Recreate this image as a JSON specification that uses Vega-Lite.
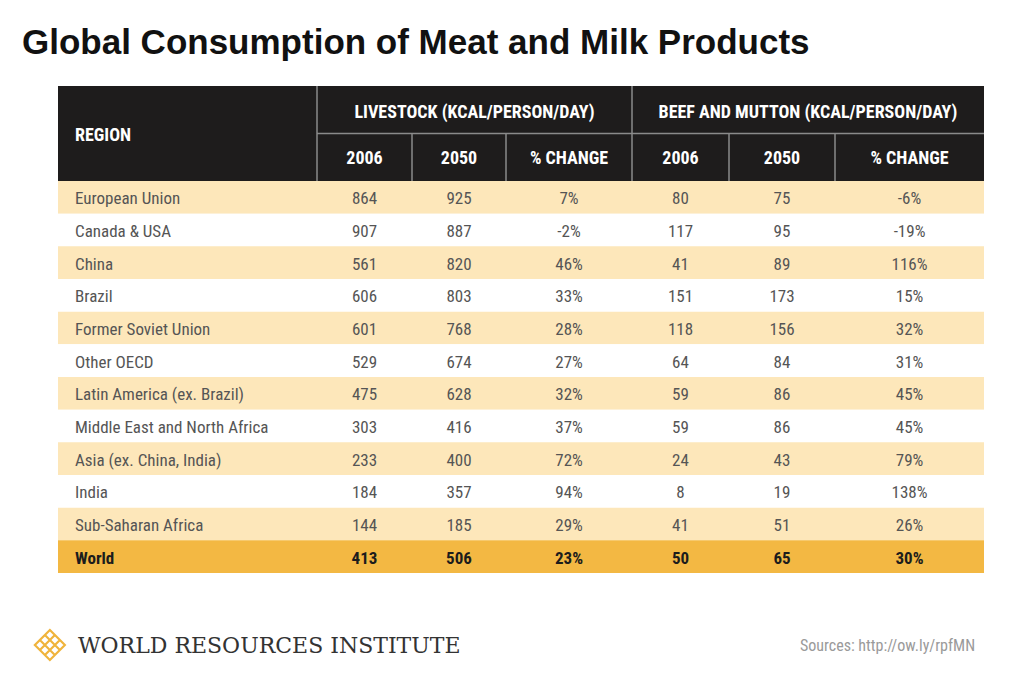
{
  "$schema": "https://vega.github.io/schema/vega-lite/v6.json",
  "width": 1024,
  "height": 610,
  "autosize": {"type": "none"},
  "padding": {"top": 70, "left": 0, "right": 0, "bottom": 0},
  "background": "#ffffff",
  "title": {"text": "Global Consumption of Meat and Milk Products", "anchor": "start", "frame": "group", "font": "Liberation Sans", "fontSize": 35, "fontWeight": "bold", "color": "#111111", "offset": 9, "dx": 22},
  "config": {
    "view": {"stroke": null},
    "text": {"dy": 2},
    "locale": {"number": {"decimal": ".", "thousands": ",", "grouping": [3], "currency": ["$", ""], "minus": "-"}}
  },
  "resolve": {"scale": {"y": "independent"}},
  "layer": [
    {
      "data": {"values": [{}]},
      "layer": [
        {"mark": {"type": "rect", "color": "#1e1c1c"},
         "encoding": {
           "x": {"datum": 0, "type": "quantitative", "axis": null, "scale": {"domain": [-1, 0, 1, 2, 3, 4, 5, 6, 7], "range": [0, 58, 317, 412, 506, 632, 729, 835, 984], "zero": false, "nice": false}},
           "x2": {"datum": 7},
           "y": {"datum": 0, "type": "quantitative", "axis": null, "scale": {"domain": [0, 2, 3], "range": [16, 111, 575], "zero": false, "nice": false}},
           "y2": {"datum": 2}}},
        {"mark": {"type": "rule", "color": "#8a8a8a", "strokeWidth": 1.5},
         "encoding": {"x": {"datum": 1, "type": "quantitative", "axis": null}, "y": {"datum": 0, "type": "quantitative", "axis": null}, "y2": {"datum": 2}}},
        {"mark": {"type": "rule", "color": "#8a8a8a", "strokeWidth": 1.5},
         "encoding": {"x": {"datum": 4, "type": "quantitative", "axis": null}, "y": {"datum": 0, "type": "quantitative", "axis": null}, "y2": {"datum": 2}}},
        {"mark": {"type": "rule", "color": "#8a8a8a", "strokeWidth": 1.5},
         "encoding": {"x": {"datum": 2, "type": "quantitative", "axis": null}, "y": {"datum": 1, "type": "quantitative", "axis": null}, "y2": {"datum": 2}}},
        {"mark": {"type": "rule", "color": "#8a8a8a", "strokeWidth": 1.5},
         "encoding": {"x": {"datum": 3, "type": "quantitative", "axis": null}, "y": {"datum": 1, "type": "quantitative", "axis": null}, "y2": {"datum": 2}}},
        {"mark": {"type": "rule", "color": "#8a8a8a", "strokeWidth": 1.5},
         "encoding": {"x": {"datum": 5, "type": "quantitative", "axis": null}, "y": {"datum": 1, "type": "quantitative", "axis": null}, "y2": {"datum": 2}}},
        {"mark": {"type": "rule", "color": "#8a8a8a", "strokeWidth": 1.5},
         "encoding": {"x": {"datum": 6, "type": "quantitative", "axis": null}, "y": {"datum": 1, "type": "quantitative", "axis": null}, "y2": {"datum": 2}}},
        {"mark": {"type": "rule", "color": "#8a8a8a", "strokeWidth": 1.5},
         "encoding": {"x": {"datum": 1, "type": "quantitative", "axis": null}, "x2": {"datum": 7}, "y": {"datum": 1, "type": "quantitative", "axis": null}}},
        {"mark": {"type": "text", "align": "left", "baseline": "middle", "dx": 17, "dy": 2, "font": "Liberation Sans Narrow, Roboto Condensed, DejaVu Sans Condensed, sans-serif", "fontSize": 18, "fontWeight": "bold", "color": "#ffffff"},
         "encoding": {"x": {"datum": 0, "type": "quantitative", "axis": null}, "y": {"datum": 1, "type": "quantitative", "axis": null}, "text": {"value": "REGION"}}},
        {"mark": {"type": "text", "align": "center", "baseline": "middle", "dy": 3, "font": "Liberation Sans Narrow, Roboto Condensed, DejaVu Sans Condensed, sans-serif", "fontSize": 18, "fontWeight": "bold", "color": "#ffffff"},
         "encoding": {"x": {"datum": 2.665, "type": "quantitative", "axis": null}, "y": {"datum": 0.5, "type": "quantitative", "axis": null}, "text": {"value": "LIVESTOCK (KCAL/PERSON/DAY)"}}},
        {"mark": {"type": "text", "align": "center", "baseline": "middle", "dy": 3, "font": "Liberation Sans Narrow, Roboto Condensed, DejaVu Sans Condensed, sans-serif", "fontSize": 18, "fontWeight": "bold", "color": "#ffffff"},
         "encoding": {"x": {"datum": 5.745, "type": "quantitative", "axis": null}, "y": {"datum": 0.5, "type": "quantitative", "axis": null}, "text": {"value": "BEEF AND MUTTON (KCAL/PERSON/DAY)"}}},
        {"mark": {"type": "text", "align": "center", "baseline": "middle", "dy": 2, "font": "Liberation Sans Narrow, Roboto Condensed, DejaVu Sans Condensed, sans-serif", "fontSize": 18, "fontWeight": "bold", "color": "#ffffff"},
         "encoding": {"x": {"datum": 1.5, "type": "quantitative", "axis": null}, "y": {"datum": 1.5, "type": "quantitative", "axis": null}, "text": {"value": "2006"}}},
        {"mark": {"type": "text", "align": "center", "baseline": "middle", "dy": 2, "font": "Liberation Sans Narrow, Roboto Condensed, DejaVu Sans Condensed, sans-serif", "fontSize": 18, "fontWeight": "bold", "color": "#ffffff"},
         "encoding": {"x": {"datum": 2.5, "type": "quantitative", "axis": null}, "y": {"datum": 1.5, "type": "quantitative", "axis": null}, "text": {"value": "2050"}}},
        {"mark": {"type": "text", "align": "center", "baseline": "middle", "dy": 2, "font": "Liberation Sans Narrow, Roboto Condensed, DejaVu Sans Condensed, sans-serif", "fontSize": 18, "fontWeight": "bold", "color": "#ffffff"},
         "encoding": {"x": {"datum": 3.5, "type": "quantitative", "axis": null}, "y": {"datum": 1.5, "type": "quantitative", "axis": null}, "text": {"value": "% CHANGE"}}},
        {"mark": {"type": "text", "align": "center", "baseline": "middle", "dy": 2, "font": "Liberation Sans Narrow, Roboto Condensed, DejaVu Sans Condensed, sans-serif", "fontSize": 18, "fontWeight": "bold", "color": "#ffffff"},
         "encoding": {"x": {"datum": 4.5, "type": "quantitative", "axis": null}, "y": {"datum": 1.5, "type": "quantitative", "axis": null}, "text": {"value": "2006"}}},
        {"mark": {"type": "text", "align": "center", "baseline": "middle", "dy": 2, "font": "Liberation Sans Narrow, Roboto Condensed, DejaVu Sans Condensed, sans-serif", "fontSize": 18, "fontWeight": "bold", "color": "#ffffff"},
         "encoding": {"x": {"datum": 5.5, "type": "quantitative", "axis": null}, "y": {"datum": 1.5, "type": "quantitative", "axis": null}, "text": {"value": "2050"}}},
        {"mark": {"type": "text", "align": "center", "baseline": "middle", "dy": 2, "font": "Liberation Sans Narrow, Roboto Condensed, DejaVu Sans Condensed, sans-serif", "fontSize": 18, "fontWeight": "bold", "color": "#ffffff"},
         "encoding": {"x": {"datum": 6.5, "type": "quantitative", "axis": null}, "y": {"datum": 1.5, "type": "quantitative", "axis": null}, "text": {"value": "% CHANGE"}}},
        {"mark": {"type": "point", "shape": "M0,-1L1,0L0,1L-1,0Z M-0.667,-0.333L0.333,0.667 M-0.333,-0.667L0.667,0.333 M-0.667,0.333L0.333,-0.667 M-0.333,0.667L0.667,-0.333", "filled": false, "size": 900, "stroke": "#f0b43c", "strokeWidth": 2.2, "opacity": 1},
         "encoding": {"x": {"datum": -0.14, "type": "quantitative", "axis": null}, "y": {"datum": 3, "type": "quantitative", "axis": null}}},
        {"mark": {"type": "text", "align": "left", "baseline": "middle", "dy": 1, "font": "DejaVu Serif", "fontSize": 22, "color": "#333333"},
         "encoding": {"x": {"datum": 0.077, "type": "quantitative", "axis": null}, "y": {"datum": 3, "type": "quantitative", "axis": null}, "text": {"value": "WORLD RESOURCES INSTITUTE"}}},
        {"mark": {"type": "text", "align": "right", "baseline": "middle", "dy": 1, "font": "Liberation Sans Narrow, Roboto Condensed, DejaVu Sans Condensed, sans-serif", "fontSize": 16, "color": "#9a9a9a"},
         "encoding": {"x": {"datum": 6.94, "type": "quantitative", "axis": null}, "y": {"datum": 3, "type": "quantitative", "axis": null}, "text": {"value": "Sources: http://ow.ly/rpfMN"}}}
      ]
    },
    {
      "data": {"values": [
        {"region": "European Union", "l2006": 864, "l2050": 925, "lchg": 0.07, "b2006": 80, "b2050": 75, "bchg": -0.06},
        {"region": "Canada & USA", "l2006": 907, "l2050": 887, "lchg": -0.02, "b2006": 117, "b2050": 95, "bchg": -0.19},
        {"region": "China", "l2006": 561, "l2050": 820, "lchg": 0.46, "b2006": 41, "b2050": 89, "bchg": 1.16},
        {"region": "Brazil", "l2006": 606, "l2050": 803, "lchg": 0.33, "b2006": 151, "b2050": 173, "bchg": 0.15},
        {"region": "Former Soviet Union", "l2006": 601, "l2050": 768, "lchg": 0.28, "b2006": 118, "b2050": 156, "bchg": 0.32},
        {"region": "Other OECD", "l2006": 529, "l2050": 674, "lchg": 0.27, "b2006": 64, "b2050": 84, "bchg": 0.31},
        {"region": "Latin America (ex. Brazil)", "l2006": 475, "l2050": 628, "lchg": 0.32, "b2006": 59, "b2050": 86, "bchg": 0.45},
        {"region": "Middle East and North Africa", "l2006": 303, "l2050": 416, "lchg": 0.37, "b2006": 59, "b2050": 86, "bchg": 0.45},
        {"region": "Asia (ex. China, India)", "l2006": 233, "l2050": 400, "lchg": 0.72, "b2006": 24, "b2050": 43, "bchg": 0.79},
        {"region": "India", "l2006": 184, "l2050": 357, "lchg": 0.94, "b2006": 8, "b2050": 19, "bchg": 1.38},
        {"region": "Sub-Saharan Africa", "l2006": 144, "l2050": 185, "lchg": 0.29, "b2006": 41, "b2050": 51, "bchg": 0.26},
        {"region": "World", "l2006": 413, "l2050": 506, "lchg": 0.23, "b2006": 50, "b2050": 65, "bchg": 0.30}
      ]},
      "layer": [
        {"transform": [{"window": [{"op": "row_number", "as": "rn"}]}],
         "mark": {"type": "rect"},
         "encoding": {
           "x": {"datum": 0, "type": "quantitative", "axis": null},
           "x2": {"datum": 7},
           "y": {"field": "region", "type": "nominal", "axis": null, "scale": {"domain": ["European Union", "Canada & USA", "China", "Brazil", "Former Soviet Union", "Other OECD", "Latin America (ex. Brazil)", "Middle East and North Africa", "Asia (ex. China, India)", "India", "Sub-Saharan Africa", "World"], "range": [111, 503], "paddingInner": 0, "paddingOuter": 0}},
           "color": {"condition": [{"test": "datum.region === 'World'", "value": "#f3b843"}, {"test": "datum.rn % 2 === 1", "value": "#fde7ba"}], "value": "#ffffff"}}},
        {"mark": {"type": "text", "align": "left", "baseline": "middle", "dx": 17, "dy": 2, "font": "Liberation Sans Narrow, Roboto Condensed, DejaVu Sans Condensed, sans-serif", "fontSize": 17, "fontWeight": {"expr": "datum.region === 'World' ? 'bold' : 'normal'"}},
         "encoding": {"x": {"datum": 0, "type": "quantitative", "axis": null}, "y": {"field": "region", "type": "nominal", "axis": null}, "text": {"field": "region", "type": "nominal"},
           "color": {"condition": {"test": "datum.region === 'World'", "value": "#1c1c1c"}, "value": "#555555"}}},
        {"mark": {"type": "text", "align": "center", "baseline": "middle", "dy": 2, "font": "Liberation Sans Narrow, Roboto Condensed, DejaVu Sans Condensed, sans-serif", "fontSize": 17, "fontWeight": {"expr": "datum.region === 'World' ? 'bold' : 'normal'"}},
         "encoding": {"x": {"datum": 1.5, "type": "quantitative", "axis": null}, "y": {"field": "region", "type": "nominal", "axis": null}, "text": {"field": "l2006", "type": "quantitative"},
           "color": {"condition": {"test": "datum.region === 'World'", "value": "#1c1c1c"}, "value": "#555555"}}},
        {"mark": {"type": "text", "align": "center", "baseline": "middle", "dy": 2, "font": "Liberation Sans Narrow, Roboto Condensed, DejaVu Sans Condensed, sans-serif", "fontSize": 17, "fontWeight": {"expr": "datum.region === 'World' ? 'bold' : 'normal'"}},
         "encoding": {"x": {"datum": 2.5, "type": "quantitative", "axis": null}, "y": {"field": "region", "type": "nominal", "axis": null}, "text": {"field": "l2050", "type": "quantitative"},
           "color": {"condition": {"test": "datum.region === 'World'", "value": "#1c1c1c"}, "value": "#555555"}}},
        {"mark": {"type": "text", "align": "center", "baseline": "middle", "dy": 2, "font": "Liberation Sans Narrow, Roboto Condensed, DejaVu Sans Condensed, sans-serif", "fontSize": 17, "fontWeight": {"expr": "datum.region === 'World' ? 'bold' : 'normal'"}},
         "encoding": {"x": {"datum": 3.5, "type": "quantitative", "axis": null}, "y": {"field": "region", "type": "nominal", "axis": null}, "text": {"field": "lchg", "type": "quantitative", "format": ".0%"},
           "color": {"condition": {"test": "datum.region === 'World'", "value": "#1c1c1c"}, "value": "#555555"}}},
        {"mark": {"type": "text", "align": "center", "baseline": "middle", "dy": 2, "font": "Liberation Sans Narrow, Roboto Condensed, DejaVu Sans Condensed, sans-serif", "fontSize": 17, "fontWeight": {"expr": "datum.region === 'World' ? 'bold' : 'normal'"}},
         "encoding": {"x": {"datum": 4.5, "type": "quantitative", "axis": null}, "y": {"field": "region", "type": "nominal", "axis": null}, "text": {"field": "b2006", "type": "quantitative"},
           "color": {"condition": {"test": "datum.region === 'World'", "value": "#1c1c1c"}, "value": "#555555"}}},
        {"mark": {"type": "text", "align": "center", "baseline": "middle", "dy": 2, "font": "Liberation Sans Narrow, Roboto Condensed, DejaVu Sans Condensed, sans-serif", "fontSize": 17, "fontWeight": {"expr": "datum.region === 'World' ? 'bold' : 'normal'"}},
         "encoding": {"x": {"datum": 5.5, "type": "quantitative", "axis": null}, "y": {"field": "region", "type": "nominal", "axis": null}, "text": {"field": "b2050", "type": "quantitative"},
           "color": {"condition": {"test": "datum.region === 'World'", "value": "#1c1c1c"}, "value": "#555555"}}},
        {"mark": {"type": "text", "align": "center", "baseline": "middle", "dy": 2, "font": "Liberation Sans Narrow, Roboto Condensed, DejaVu Sans Condensed, sans-serif", "fontSize": 17, "fontWeight": {"expr": "datum.region === 'World' ? 'bold' : 'normal'"}},
         "encoding": {"x": {"datum": 6.5, "type": "quantitative", "axis": null}, "y": {"field": "region", "type": "nominal", "axis": null}, "text": {"field": "bchg", "type": "quantitative", "format": ".0%"},
           "color": {"condition": {"test": "datum.region === 'World'", "value": "#1c1c1c"}, "value": "#555555"}}}
      ]
    }
  ]
}
